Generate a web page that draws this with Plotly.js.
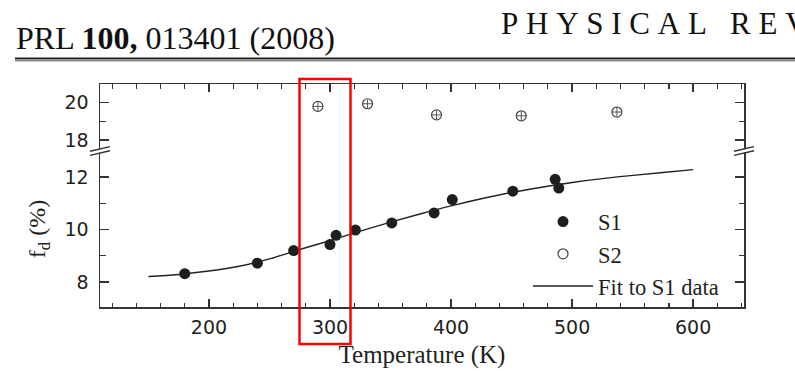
<!DOCTYPE html>
<html>
<head>
<meta charset="utf-8">
<script src="https://cdn.plot.ly/plotly-3.0.1.min.js"></script>
<style>html,body{margin:0;padding:0;background:#fff;}#chart{width:795px;height:371px;}</style>
</head>
<body>
<div id="chart"></div>
<script>
// ---- data ----
const s1Temperature = [180, 240, 270, 300, 305, 321, 351, 386, 401, 451, 486, 489];
const s1Fraction    = [8.32, 8.72, 9.20, 9.43, 9.78, 9.98, 10.25, 10.63, 11.14, 11.46, 11.91, 11.58];

const s2Temperature = [290, 331, 388, 458, 537];
const s2Fraction    = [19.79, 19.93, 19.34, 19.29, 19.49];
const s2ErrT        = [4, 4, 4, 4, 4];
const s2ErrF        = [0.22, 0.22, 0.22, 0.22, 0.22];

const fitTemperature = [150, 175, 200, 225, 250, 275, 300, 325, 350, 375, 400, 425, 450, 475, 500, 525, 550, 575, 600];
const fitFraction    = [8.21, 8.29, 8.42, 8.60, 8.88, 9.24, 9.58, 9.94, 10.28, 10.60, 10.90, 11.17, 11.41, 11.61, 11.79, 11.94, 12.06, 12.17, 12.28];

const legendNames = ['S1', 'S2', 'Fit to S1 data'];
const headerLeft  = 'PRL <b>100,</b> 013401 (2008)';
const headerRight = 'PHYSICAL REV';
const xTitle = 'Temperature (K)';
const yTitle = 'f<sub>d</sub> (%)';

// ---- styling ----
const ink = '#231f20';
const serif = 'Liberation Serif, Times New Roman, serif';
const sans = 'DejaVu Sans, Arial, sans-serif';
const splitY = 156 / 223;

const traces = [
  {
    x: s1Temperature, y: s1Fraction, xaxis: 'x', yaxis: 'y',
    type: 'scatter', mode: 'markers', name: legendNames[0],
    marker: {symbol: 'circle', size: 11, color: '#1e1e1e', line: {width: 0}}
  },
  {
    x: s2Temperature, y: s2Fraction, xaxis: 'x2', yaxis: 'y2',
    type: 'scatter', mode: 'markers', name: legendNames[1],
    marker: {symbol: 'circle-open', size: 10, color: '#444', line: {width: 1.2, color: '#444'}},
    error_x: {type: 'data', array: s2ErrT, width: 0, thickness: 1, color: '#555'},
    error_y: {type: 'data', array: s2ErrF, width: 0, thickness: 1, color: '#555'}
  },
  {
    x: fitTemperature, y: fitFraction, xaxis: 'x', yaxis: 'y',
    type: 'scatter', mode: 'lines', name: legendNames[2],
    line: {color: '#222', width: 1.4, shape: 'spline'}
  }
];

const spaced = headerRight.split('').map(c => c === ' ' ? '\u00A0' : c).join('\u00A0');

const commonX = {
  range: [110, 642], showline: true, linewidth: 1.5, linecolor: '#333',
  ticks: 'inside', ticklen: 8, tickwidth: 1.4, tickcolor: '#333',
  dtick: 100, tick0: 0, showgrid: false, zeroline: false,
  minor: {dtick: 20, tick0: 0, ticks: 'inside', ticklen: 4.5, tickwidth: 1.2, tickcolor: '#333', showgrid: false}
};
const commonY = {
  showline: true, linewidth: 1.5, linecolor: '#333', mirror: 'ticks',
  ticks: 'inside', ticklen: 9, tickwidth: 1.4, tickcolor: '#333',
  dtick: 2, tick0: 0, showgrid: false, zeroline: false,
  tickfont: {family: sans, size: 19, color: ink}, ticklabelstandoff: 6,
  minor: {dtick: 1, tick0: 0, ticks: 'inside', ticklen: 5.5, tickwidth: 1.2, tickcolor: '#333', showgrid: false}
};

const layout = {
  width: 795, height: 371,
  margin: {l: 100, r: 51, t: 84, b: 64},
  paper_bgcolor: '#fff', plot_bgcolor: '#fff',
  showlegend: true,
  legend: {
    x: (528 - 100) / 644, y: 0.478, xanchor: 'left', yanchor: 'top',
    bgcolor: 'rgba(0,0,0,0)', borderwidth: 0, itemwidth: 60,
    font: {family: serif, size: 22.5, color: ink},
    tracegroupgap: 0
  },
  xaxis: Object.assign({}, commonX, {
    anchor: 'y', domain: [0, 1],
    tickfont: {family: sans, size: 19, color: ink}, ticklabelstandoff: 3,
    title: {text: xTitle, font: {family: serif, size: 25, color: ink}, standoff: 8}
  }),
  xaxis2: Object.assign({}, commonX, {
    anchor: 'y2', domain: [0, 1], side: 'top', matches: 'x', showticklabels: false
  }),
  yaxis: Object.assign({}, commonY, {
    anchor: 'x', domain: [0, splitY], range: [7.05, 12.99],
    title: {text: yTitle, font: {family: serif, size: 24, color: ink}, standoff: 12}
  }),
  yaxis2: Object.assign({}, commonY, {
    anchor: 'x2', domain: [splitY, 1], range: [17.42, 20.98]
  }),
  shapes: [
    // header rule
    {type: 'line', xref: 'paper', yref: 'paper', x0: (15 - 100) / 644, x1: (800 - 100) / 644,
     y0: (307 - 58.6) / 223, y1: (307 - 58.6) / 223, line: {color: '#222', width: 2}},
    {type: 'line', xref: 'paper', yref: 'paper', x0: (15 - 100) / 644, x1: (800 - 100) / 644,
     y0: (307 - 60.8) / 223, y1: (307 - 60.8) / 223, line: {color: '#555', width: 1}},
    // axis break marks, left and right
    ...[0, 1].flatMap(ax => [
      {type: 'line', xref: 'paper', yref: 'paper', xsizemode: 'pixel', ysizemode: 'pixel',
       xanchor: ax, yanchor: splitY, x0: -10, x1: 10, y0: -2.3, y1: 2.3, layer: 'above',
       line: {color: '#fff', width: 3}},
      {type: 'line', xref: 'paper', yref: 'paper', xsizemode: 'pixel', ysizemode: 'pixel',
       xanchor: ax, yanchor: splitY, x0: -10, x1: 10, y0: -0.2, y1: 4.4, layer: 'above',
       line: {color: '#333', width: 1.4}},
      {type: 'line', xref: 'paper', yref: 'paper', xsizemode: 'pixel', ysizemode: 'pixel',
       xanchor: ax, yanchor: splitY, x0: -10, x1: 10, y0: -4.4, y1: 0.2, layer: 'above',
       line: {color: '#333', width: 1.4}}
    ]),
    // red highlight box
    {type: 'rect', xref: 'paper', yref: 'paper', layer: 'above',
     x0: (299.5 - 100) / 644, x1: (350.5 - 100) / 644,
     y0: (307 - 344) / 223, y1: (307 - 79) / 223,
     line: {color: '#ff0000', width: 2.5}, fillcolor: 'rgba(0,0,0,0)'}
  ],
  annotations: [
    {text: headerLeft, xref: 'paper', yref: 'paper', x: (14 - 100) / 644, y: (307 - 38) / 223,
     xanchor: 'left', yanchor: 'middle', showarrow: false,
     font: {family: serif, size: 32, color: '#111'}},
    {text: spaced, xref: 'paper', yref: 'paper', x: (499 - 100) / 644, y: (307 - 23) / 223,
     xanchor: 'left', yanchor: 'middle', showarrow: false,
     font: {family: serif, size: 31, color: '#111'}}
  ]
};

Plotly.newPlot('chart', traces, layout, {displayModeBar: false, staticPlot: true});
</script>
</body>
</html>
